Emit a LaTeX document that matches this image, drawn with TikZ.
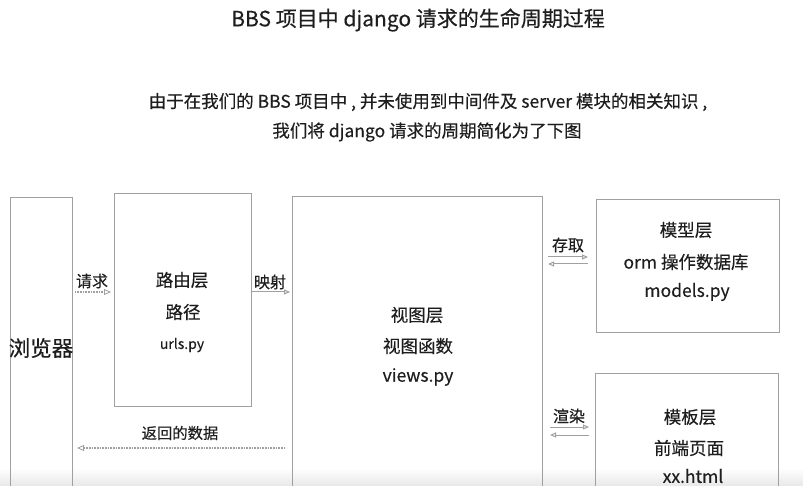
\documentclass[tikz,border=0pt]{standalone}
\usepackage{fontspec}
\setmainfont{Noto Sans CJK SC}[UprightFeatures={FakeBold=0.35}]
\usetikzlibrary{arrows.meta}
\definecolor{boxgray}{HTML}{A0A0A0}
\definecolor{txt}{HTML}{1E1E1E}
\tikzset{
  box/.style={draw=boxgray, line width=0.9pt},
  lbl/.style={text=txt, inner sep=0pt, anchor=center},
  boxtxt/.style={lbl, font=\fontsize{17.5}{21}\selectfont},
  contxt/.style={lbl, font=\fontsize{16}{19}\selectfont},
  openarrow/.style={draw=boxgray, line width=1pt, -{Triangle[open, length=6pt, width=5pt]}},
  hatcharrow/.style={draw=boxgray, line width=1.6pt, dash pattern=on 1pt off 0.6pt, -{Triangle[open, length=7pt, width=6pt, line width=0.8pt]}},
}
\begin{document}
\begin{tikzpicture}[x=1pt, y=-1pt]
\useasboundingbox (0,0) rectangle (803,486);
\begin{scope}
\clip (0,0) rectangle (803,486);
% bottom shadow
\shade[top color=white, bottom color=black!9] (0,468) rectangle (803,486);
% boxes
\draw[box] (10,520) |- (72,197) -- (72,520);
\draw[box] (114,193) rectangle (251,406);
\draw[box] (292,520) |- (542,196) -- (542,520);
\draw[box] (596,199) rectangle (779,332);
\draw[box] (595,520) |- (778,373) -- (778,520);
\node[lbl, font=\fontsize{21.5}{25}\selectfont] (browser) at (41,348) {浏览器};
% router
\node[boxtxt] (r1) at (182,280) {路由层};
\node[boxtxt] (r2) at (183,312) {路径};
\node[lbl, font=\fontsize{14}{17}\selectfont] (r3) at (182,345) {urls.py};
% view
\node[boxtxt] (v1) at (417,315) {视图层};
\node[boxtxt] (v2) at (418,346) {视图函数};
\node[boxtxt] (v3) at (418,377) {views.py};
% model
\node[boxtxt] (m1) at (686,230) {模型层};
\node[boxtxt] (m2) at (686,262) {orm 操作数据库};
\node[boxtxt] (m3) at (687,292) {models.py};
% template
\node[boxtxt] (t1) at (690,417) {模板层};
\node[boxtxt] (t2) at (689,448) {前端页面};
\node[boxtxt] (t3) at (693,476) {xx.html};
% connector labels
\node[contxt] (q) at (92,281) {请求};
\node[contxt] (ys) at (270,282) {映射};
\node[contxt] (cq) at (568,245) {存取};
\node[contxt] (xr) at (569,416) {渲染};
\node[lbl, font=\fontsize{15.3}{18}\selectfont] (fh) at (180,433) {返回的数据};
% connector end points
\coordinate (a1) at (75,292); \coordinate (a2) at (111,292);
\coordinate (b1) at (251,292); \coordinate (b2) at (290,292);
\coordinate (c1) at (548,257); \coordinate (c2) at (588,257);
\coordinate (c3) at (588,264); \coordinate (c4) at (548,264);
\coordinate (d1) at (550,427); \coordinate (d2) at (589,427);
\coordinate (d3) at (589,435); \coordinate (d4) at (550,435);
\coordinate (e1) at (285,448); \coordinate (e2) at (77,448);
\draw[hatcharrow, line width=1.2pt] (a1) -- (a2);
\draw[openarrow] (b1) -- (b2);
\draw[openarrow] (c1) -- (c2);
\draw[openarrow] (c3) -- (c4);
\draw[openarrow] (d1) -- (d2);
\draw[openarrow] (d3) -- (d4);
\draw[hatcharrow] (e1) -- (e2);
\end{scope}
% title
\node[lbl, font=\fontsize{21}{25}\selectfont] (title) at (418,20) {BBS 项目中 django 请求的生命周期过程};
\node[lbl, font=\fontsize{17.5}{21}\selectfont] (s1) at (428,102) {由于在我们的 BBS 项目中 , 并未使用到中间件及 server 模块的相关知识 ,};
\node[lbl, font=\fontsize{17.5}{21}\selectfont] (s2) at (427,132) {我们将 django 请求的周期简化为了下图};
\end{tikzpicture}
\end{document}
